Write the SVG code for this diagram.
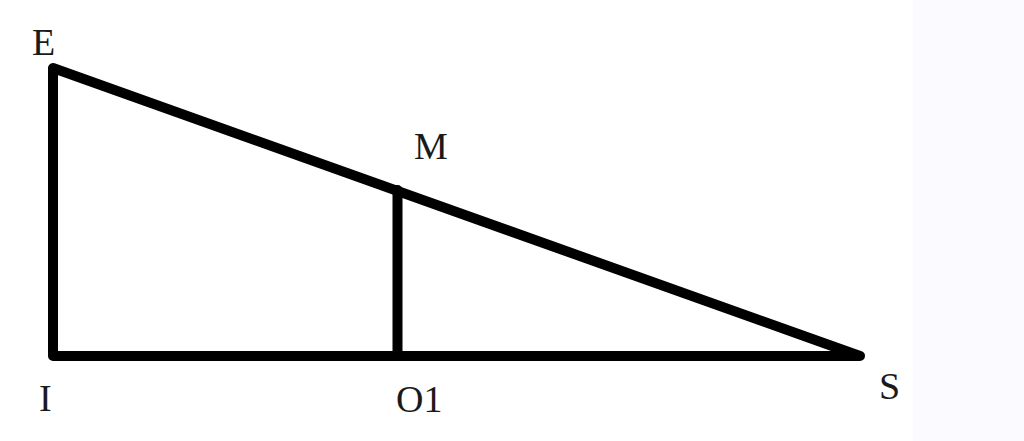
<svg xmlns="http://www.w3.org/2000/svg" width="1024" height="441" viewBox="0 0 1024 441">
<style>
.ln{stroke:#000;stroke-width:10;fill:none;stroke-linecap:round;stroke-linejoin:round}
.lb{font-family:"Liberation Serif","Times New Roman",serif;font-size:38px;fill:#1a1a1a}
</style>
<rect width="1024" height="441" fill="#fff"/>
<rect x="913" y="0" width="111" height="441" fill="#fafaff"/>
<g id="connectors">
<path class="ln" d="M53,68 L53,356 L860,356 Z"/>
<line class="ln" x1="397.5" y1="190" x2="397.5" y2="356"/>
</g>
<g id="E"><text class="lb" x="32" y="55">E</text></g>
<g id="M"><text class="lb" x="414" y="159">M</text></g>
<g id="I"><text class="lb" x="39" y="411">I</text></g>
<g id="O1"><text class="lb" x="396" y="412">O1</text></g>
<g id="S"><text class="lb" x="879" y="399">S</text></g>
</svg>
